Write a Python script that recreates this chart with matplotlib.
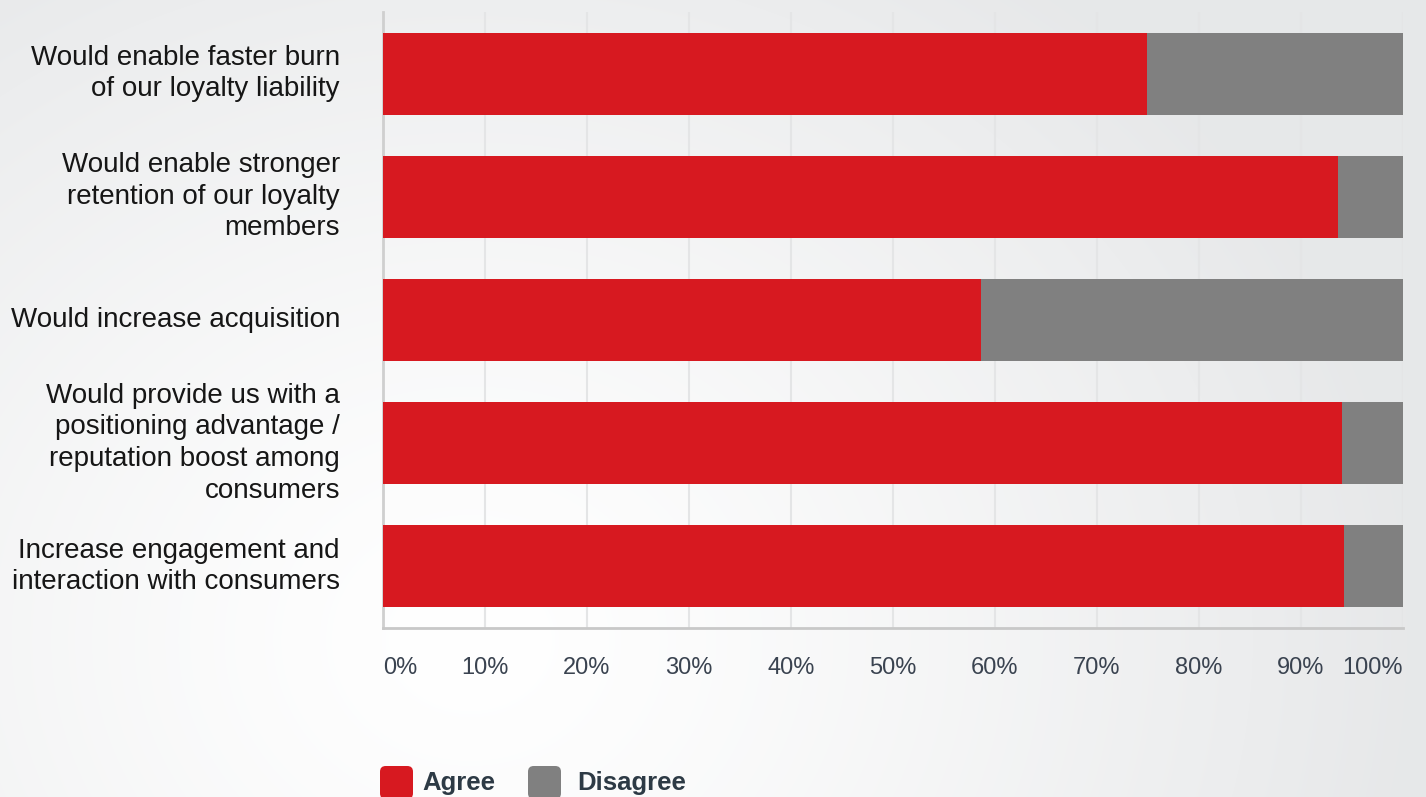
import matplotlib
matplotlib.use("Agg")
import matplotlib.pyplot as plt
from matplotlib.patches import FancyBboxPatch
import numpy as np

plt.rcParams['font.family'] = ['Liberation Sans', 'DejaVu Sans']

categories = [
    "Would enable faster burn\nof our loyalty liability",
    "Would enable stronger\nretention of our loyalty\nmembers",
    "Would increase acquisition",
    "Would provide us with a\npositioning advantage /\nreputation boost among\nconsumers",
    "Increase engagement and\ninteraction with consumers",
]
agree = [74.9, 93.6, 58.6, 94.0, 94.2]
disagree = [100 - a for a in agree]
series_names = ["Agree", "Disagree"]
series_colors = ["#d71920", "#808080"]
tick_values = list(range(0, 101, 10))
tick_labels = [f"{v}%" for v in tick_values]

W, H = 1426, 797
fig = plt.figure(figsize=(W / 100, H / 100), dpi=100)

# soft radial background
bg = fig.add_axes([0, 0, 1, 1], zorder=-10)
yy, xx = np.mgrid[0:H, 0:W]
d = np.sqrt(((xx - 470) / 1.15) ** 2 + (yy - 640) ** 2)
t = np.clip(d / 820, 0, 1) ** 1.3
edge = np.array([0.905, 0.91, 0.915])
img = (1 - t)[..., None] * np.ones(3) + t[..., None] * edge
bg.imshow(img, aspect='auto', extent=[0, 1, 0, 1], origin='upper')
bg.axis('off')

ax = fig.add_axes([383 / W, 1 - 628 / H, (1403 - 383) / W, (628 - 12) / H])
ax.patch.set_alpha(0)

y = np.arange(len(categories))
ax.barh(y, agree, height=0.667, color=series_colors[0], zorder=3)
ax.barh(y, disagree, left=agree, height=0.667, color=series_colors[1], zorder=3)

ax.set_xlim(0, 100)
ax.set_ylim(len(categories) - 0.5, -0.5)
ax.set_yticks(y)
ax.set_yticklabels(categories, fontsize=20, color="#161616", linespacing=1.28,
                   ha='right', va='center', multialignment='right')
ax.tick_params(axis='y', length=0, pad=31)

ax.set_xticks(tick_values)
ax.set_xticklabels(tick_labels, fontsize=17, color="#3a4350")
ax.tick_params(axis='x', length=0, pad=21)
labels = ax.get_xticklabels()
labels[0].set_ha('left')
labels[-1].set_ha('right')

ax.grid(axis='x', color="#e4e5e6", linewidth=1.5, zorder=0)
for s in ['top', 'right']:
    ax.spines[s].set_visible(False)
ax.spines['left'].set_color("#cfcfcf")
ax.spines['left'].set_linewidth(2)
ax.spines['bottom'].set_color("#c8c8c8")
ax.spines['bottom'].set_linewidth(2)

# legend with rounded swatches
legend_x = [380, 528]
text_x = [422, 577]
for name, color, x0, tx in zip(series_names, series_colors, legend_x, text_x):
    sw = FancyBboxPatch((x0 / W, 1 - 799 / H), 33 / W, 33 / H,
                        boxstyle="round,pad=0,rounding_size=0.004",
                        transform=fig.transFigure, facecolor=color,
                        edgecolor='none', mutation_aspect=W / H)
    fig.patches.append(sw)
    fig.text(tx / W, 1 - 783 / H, name, fontsize=18.5, fontweight='bold',
             color="#2d3a45", va='center', ha='left')

fig.savefig("out.png", dpi=100)
